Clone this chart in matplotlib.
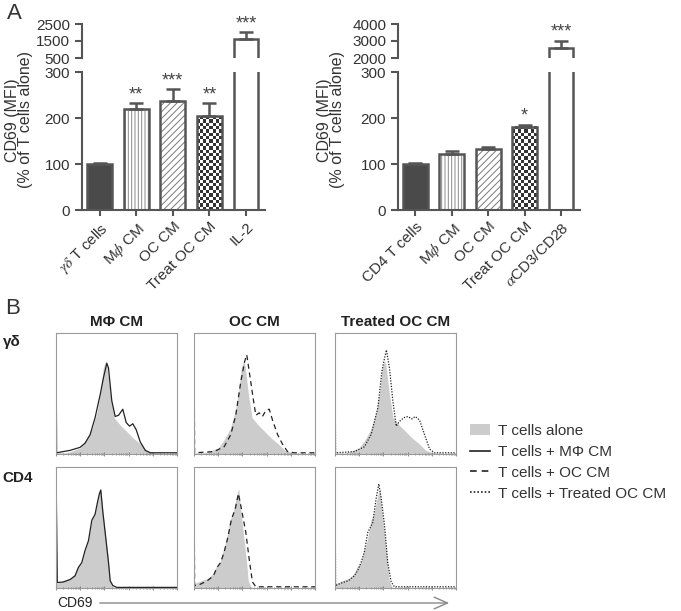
import numpy as np
import matplotlib.pyplot as plt
from matplotlib.colors import ListedColormap
from matplotlib.lines import Line2D
from matplotlib.patches import Patch, FancyArrowPatch

plt.rcParams['font.family'] = ['Liberation Sans', 'DejaVu Sans']
plt.rcParams['mathtext.fontset'] = 'stix'
plt.rcParams['hatch.linewidth'] = 0.7

# ---- panel A: CD69 MFI, % of T cells alone ----
gd_labels = [r'$\gamma\delta$ T cells', r'M$\phi$ CM', 'OC CM', 'Treat OC CM', 'IL-2']
gd_mean = [100, 220, 237, 204, 1620]
gd_err = [2, 12, 25, 28, 410]
gd_stars = ['', '**', '***', '**', '***']

cd4_labels = ['CD4 T cells', r'M$\phi$ CM', 'OC CM', 'Treat OC CM', r'$\alpha$CD3/CD28']
cd4_mean = [100, 122, 132, 181, 2600]
cd4_err = [2, 7, 6, 4, 420]
cd4_stars = ['', '', '', '*', '***']

bar_fills = ['solid', 'vlines', 'diag', 'checker', 'open']

# ---- panel B: CD69 histograms (x, y in % of the plot frame) ----
hist_cols = ['M\u03a6 CM', 'OC CM', 'Treated OC CM']
hist_rows = ['\u03b3\u03b4', 'CD4']
line_styles = ['-', (0, (4, 3)), (0, (1, 1.2))]

# T cells alone (grey fill), one per row
gd_alone_x = [0, 8, 12, 20, 25, 30, 34, 37, 39, 41, 42, 45, 48, 53, 59, 64, 70, 75, 81, 100]
gd_alone_y = [1, 1, 2, 5, 12, 21, 35, 52, 71, 77, 74, 49, 30, 24, 18, 13, 8, 3, 1, 0]
cd4_alone_x = [0, 1, 6, 11.6, 15.7, 18.5, 21.3, 24, 26.8, 29.6, 32.3, 34.3, 35.9, 37, 38.7, 41.4, 43.4, 44.8, 47, 50, 100]
cd4_alone_y = [3, 4, 6, 8, 12, 18, 21, 31, 40, 56, 62, 72, 79, 82, 64, 40, 22, 6, 1, 0, 0]

# gamma-delta T cells + conditioned media
gd_mph_x = [0, 0.5, 11.6, 19.9, 24, 28.2, 32.3, 36.5, 39.2, 42, 43.4, 46.1, 48.9, 51.7, 55.2, 58, 60.8, 63.5, 66.3, 69.6, 73.8, 77.9, 100]
gd_mph_y = [97, 1, 3, 5.5, 9, 16, 30, 49, 63, 75, 71, 44, 31, 32, 37, 26, 23, 25, 20, 10, 3, 1, 1]
gd_oc_x = [0, 0.5, 16.6, 24.9, 30.4, 34.5, 38.7, 42, 43.6, 46.4, 49.2, 51.1, 53.9, 56.6, 59.4, 62.2, 64.9, 69.1, 73.2, 77.3, 82.9, 100]
gd_oc_y = [99, 1, 2, 6, 16, 32, 60, 77, 82, 63, 44, 32, 34, 31, 36, 37, 28, 16, 8, 2, 1, 1]
gd_toc_x = [0, 0.5, 16, 24.3, 29.8, 35.4, 38.7, 40.9, 42.5, 45, 47.8, 50.6, 53.3, 56.9, 60.2, 63.5, 66.3, 69.9, 74, 78.2, 82.3, 100]
gd_toc_y = [75, 1, 2, 6, 16, 38, 68, 79, 86, 71, 44, 23, 27, 30, 31, 29, 31, 28, 16, 4, 1, 1]

# CD4 T cells + conditioned media
cd4_mph_x = [0, 1.1, 6.1, 11.6, 15.7, 18.5, 21.3, 24, 26.8, 29.6, 32.3, 34.3, 35.9, 37, 38.7, 41.4, 43.4, 44.8, 47, 50.3, 100]
cd4_mph_y = [99, 4.5, 5, 7, 10, 17, 21, 31, 39, 56, 61, 71, 78, 81, 63, 39, 21, 6, 2, 0.5, 0.5]
cd4_oc_x = [0, 0.5, 5, 11, 16, 19, 22, 25, 28, 31, 34, 36.7, 38.7, 42.8, 45.6, 48.3, 51.1, 100]
cd4_oc_y = [99, 2, 3, 6, 10, 17, 21, 30, 42, 57, 65, 78, 68, 46, 24, 5, 1, 1]
cd4_toc_x = [0, 0.5, 5, 11, 16, 19, 21.5, 24.3, 27.1, 31.2, 34, 36.2, 38.1, 40.9, 43.6, 46.4, 49.2, 100]
cd4_toc_y = [97, 2, 4, 6, 10, 15, 21, 30, 46, 54, 74, 86, 75, 52, 21, 5, 1, 1]

alone_x = [gd_alone_x, cd4_alone_x]
alone_y = [gd_alone_y, cd4_alone_y]
treat_x = [[gd_mph_x, gd_oc_x, gd_toc_x], [cd4_mph_x, cd4_oc_x, cd4_toc_x]]
treat_y = [[gd_mph_y, gd_oc_y, gd_toc_y], [cd4_mph_y, cd4_oc_y, cd4_toc_y]]

W, H = 681, 611
fig = plt.figure(figsize=(W / 100, H / 100), dpi=100)


def box(x0, y0, x1, y1):
    # pixel box (top-left origin) -> figure fraction
    return [x0 / W, 1 - y1 / H, (x1 - x0) / W, (y1 - y0) / H]


EDGE = '#555555'
checker_cmap = ListedColormap(['white', '#333333'])


def bar_panel(x0, x1, means, errs, stars, labels, top_lim, top_ticks, ylab_x):
    lo = fig.add_axes(box(x0, 72, x1, 210))
    hi = fig.add_axes(box(x0, 24, x1, 58))
    xs = np.arange(len(means))
    w = 0.68
    for ax in (lo, hi):
        for x, m, kind in zip(xs, means, bar_fills):
            if kind == 'solid':
                ax.bar(x, m, w, color='#4a4a4a', edgecolor=EDGE, lw=1.8, zorder=2)
                continue
            if kind == 'vlines':
                ax.bar(x, m, w, color='white', edgecolor='#8a8a8a', hatch='|||||', lw=0, zorder=1)
            elif kind == 'diag':
                ax.bar(x, m, w, color='white', edgecolor='#7a7a7a', hatch='/////', lw=0, zorder=1)
            elif kind == 'checker' and ax is lo:
                ny = max(2, int(round(m * 138 / 300 / 3.3)))
                cells = np.add.outer(np.arange(ny), np.arange(8)) % 2
                ax.imshow(cells, extent=(x - w / 2, x + w / 2, 0, m), aspect='auto',
                          interpolation='nearest', cmap=checker_cmap, zorder=1)
            ax.bar(x, m, w, fill=False, edgecolor=EDGE, lw=1.8, zorder=2)
        ax.errorbar(xs, means, yerr=[np.zeros(len(errs)), errs], fmt='none', ecolor=EDGE,
                    elinewidth=1.8, capsize=5, capthick=1.8, zorder=3)
        ax.set_xlim(-0.48, 4.52)
        for side in ('top', 'right'):
            ax.spines[side].set_visible(False)
        for side in ('left', 'bottom'):
            ax.spines[side].set_color(EDGE)
            ax.spines[side].set_linewidth(1.5)
        ax.tick_params(colors=EDGE, labelcolor='#333333', width=1.5, length=5, labelsize=11)

    for x, m, e, s in zip(xs, means, errs, stars):
        if s:
            ax = lo if m + e < 300 else hi
            ax.text(x, m + e, s, ha='center', va='bottom', fontsize=13, color='#444444')

    lo.set_ylim(0, 300)
    lo.set_yticks([0, 100, 200, 300])
    lo.set_xticks(xs, labels, rotation=45, ha='right', rotation_mode='anchor')
    lo.tick_params(axis='x', length=4, pad=3)

    hi.set_ylim(*top_lim)
    hi.set_yticks(top_ticks)
    hi.spines['bottom'].set_visible(False)
    hi.set_xticks([])

    fig.text(ylab_x / W, 1 - 120 / H, 'CD69 (MFI)\n(% of T cells alone)', rotation=90,
             ha='center', va='center', fontsize=11.5, linespacing=0.9, color='#333333')


bar_panel(82, 265, gd_mean, gd_err, gd_stars, gd_labels, (500, 2500), [500, 1500, 2500], 19)
bar_panel(398, 580, cd4_mean, cd4_err, cd4_stars, cd4_labels, (2000, 4000), [2000, 3000, 4000], 331)

fig.text(7 / W, 1 - 3 / H, 'A', fontsize=16, va='top', color='#333333')
fig.text(5 / W, 1 - 298 / H, 'B', fontsize=16, va='top', color='#333333')

# ---- histograms ----
col_px = [(56, 177), (194, 315), (335, 456)]
row_px = [(333, 454), (467, 588)]
major = np.arange(0, 101, 20)
minor = np.concatenate([d + 20 * np.log10(np.arange(2, 10)) for d in major[:-1]])

for r in range(2):
    for c in range(3):
        ax = fig.add_axes(box(col_px[c][0], row_px[r][0], col_px[c][1], row_px[r][1]))
        ax.fill_between(alone_x[r], alone_y[r], color='#cccccc', lw=0)
        ax.plot(treat_x[r][c], treat_y[r][c], color='#222222', lw=0.9, ls=line_styles[c])
        ax.set_xlim(0, 100)
        ax.set_ylim(0, 100)
        ax.set_yticks([])
        ax.set_xticks(major, [])
        ax.set_xticks(minor, minor=True)
        ax.tick_params(axis='x', which='major', direction='inout', length=3, width=0.6, colors='#777777')
        ax.tick_params(axis='x', which='minor', direction='inout', length=1.6, width=0.5, colors='#777777')
        for sp in ax.spines.values():
            sp.set_color('#9a9a9a')
            sp.set_linewidth(0.8)
        if r == 0:
            ax.set_title(hist_cols[c], fontsize=11, fontweight='bold', pad=5, color='#222222')

fig.text(3 / W, 1 - 342 / H, hist_rows[0], fontsize=11, fontweight='bold', va='center', color='#222222')
fig.text(2 / W, 1 - 478 / H, hist_rows[1], fontsize=11, fontweight='bold', va='center', color='#222222')

fig.text(57 / W, 1 - 603 / H, 'CD69', fontsize=10, va='center', color='#222222')
fig.add_artist(FancyArrowPatch((97 / W, 1 - 603 / H), (452 / W, 1 - 603 / H), transform=fig.transFigure,
                               arrowstyle='->,head_length=0.8,head_width=0.35', mutation_scale=12,
                               color='#888888', lw=1))

handles = [Patch(facecolor='#cccccc', edgecolor='none'),
           Line2D([], [], color='#222222', lw=1.2, ls=line_styles[0]),
           Line2D([], [], color='#222222', lw=1.2, ls=line_styles[1]),
           Line2D([], [], color='#222222', lw=1.2, ls=line_styles[2])]
leg_labels = ['T cells alone', 'T cells + M\u03a6 CM', 'T cells + OC CM', 'T cells + Treated OC CM']
fig.legend(handles, leg_labels, loc='upper left', bbox_to_anchor=(470 / W, 1 - 424 / H), frameon=False,
           fontsize=11, handlelength=1.3, handletextpad=0.5, labelspacing=0.45, borderpad=0,
           borderaxespad=0, labelcolor='#333333')

fig.savefig('out.png', dpi=100)
